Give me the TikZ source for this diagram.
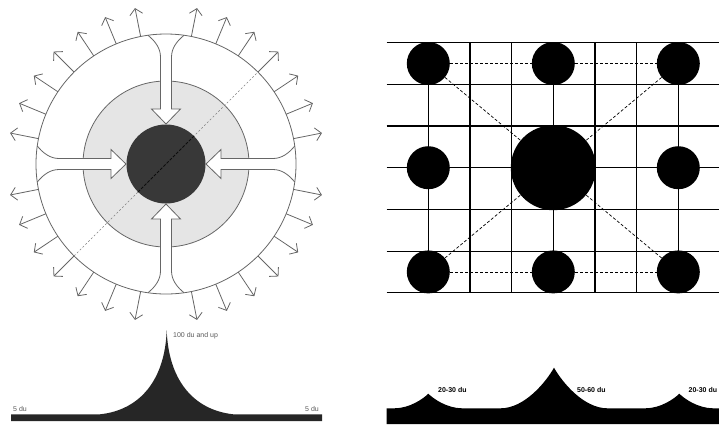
\documentclass[tikz,border=0pt]{standalone}
\usepackage{fontspec}
\setmainfont{Liberation Sans}
\usetikzlibrary{arrows.meta}

\begin{document}
\begin{tikzpicture}[
    x=1pt,y=-1pt,
    ring/.style={
        circle,
        draw=black!60,
        line width=0.8pt,
        inner sep=0pt
    },
    outarrow/.style={-{Straight Barb[length=6pt,width=13pt]}, line width=0.8pt, draw=black!60},
    channel/.style={draw=black!60, line width=0.8pt},
    diag/.style={draw=black!50, line width=0.5pt, dash pattern=on 2pt off 2pt},
    gridline/.style={draw=black, line width=1.1pt},
    dot/.style={circle, fill=black, inner sep=0pt, minimum size=43pt},
    link/.style={draw=black, line width=0.7pt, dash pattern=on 3pt off 2pt},
    tag/.style={font=\fontsize{7}{8}\selectfont, text=black!65, inner sep=0pt, anchor=west},
    boldtag/.style={font=\fontsize{7}{8}\selectfont\bfseries, inner sep=0pt, anchor=west}
]
    \useasboundingbox (0,0) rectangle (719,424);

    % concentric town
    \coordinate (C) at (166,164);
    \coordinate (ne end) at (257.9,72.1);
    \coordinate (sw end) at (74.1,255.9);

    \node[ring, fill=black!10, minimum size=166pt] (middle) at (C) {};
    \draw[diag] (sw end) -- (ne end);

    \foreach \a in {0,90,180,270}{
        \begin{scope}[shift={(C)}, rotate=\a]
            \fill[white] (128.7,18) .. controls (123,11) and (116,5.5) .. (107,5.5)
                -- (55,5.5) -- (55,14.5) -- (40,0) -- (55,-14.5) -- (55,-5.5)
                -- (107,-5.5) .. controls (116,-5.5) and (123,-11) .. (128.7,-18) -- cycle;
            \draw[channel] (128.7,18) .. controls (123,11) and (116,5.5) .. (107,5.5)
                -- (55,5.5) -- (55,14.5) -- (40,0) -- (55,-14.5) -- (55,-5.5)
                -- (107,-5.5) .. controls (116,-5.5) and (123,-11) .. (128.7,-18);
        \end{scope}
    }

    \node[circle, fill=black!78, inner sep=0pt, minimum size=79pt] (core) at (C) {};
    \draw[draw=black!95, line width=0.8pt, dash pattern=on 3pt off 1.5pt]
        (core.south west) -- (core.north east);

    \node[ring, minimum size=260pt] (outer) at (C) {};

    \foreach \q in {0,90,180,270}
        \foreach \j in {1,...,7}
            \draw[outarrow] (C) ++(\q+\j*11.25:130) -- ++(\q+\j*11.25:29);

    % density profile, one centre
    \fill[black!85] (11,421) -- (11,414.3) -- (100,414.3)
        .. controls (140,410) and (165,380) .. (166.7,330)
        .. controls (168.4,380) and (193.4,410) .. (233.4,414.3)
        -- (322,414.3) -- (322,421) -- cycle;
    \node[tag] (peak tag) at (173,336) {100 du and up};
    \node[tag] (left tag) at (13,409) {5 du};
    \node[tag] (right tag) at (305,409) {5 du};

    % grid of centres
    \foreach \i in {0,...,6}{
        \draw[gridline] (386.7,42.7+\i*41.67) -- (719,42.7+\i*41.67);
        \draw[gridline] (428.3+\i*41.67,42.7) -- (428.3+\i*41.67,292.7);
    }

    \node[dot] (nw) at (428.3,63.5) {};
    \node[dot] (n) at (553.3,63.5) {};
    \node[dot] (ne) at (678.3,63.5) {};
    \node[dot] (w) at (428.3,167.7) {};
    \node[dot] (e) at (678.3,167.7) {};
    \node[dot] (sw) at (428.3,271.9) {};
    \node[dot] (s) at (553.3,271.9) {};
    \node[dot] (se) at (678.3,271.9) {};
    \node[dot, minimum size=85pt] (hub) at (553.3,167.7) {};

    \draw[link] (nw) -- (n);
    \draw[link] (n) -- (ne);
    \draw[link] (sw) -- (s);
    \draw[link] (s) -- (se);
    \draw[link] (nw) -- (hub);
    \draw[link] (ne) -- (hub);
    \draw[link] (sw) -- (hub);
    \draw[link] (se) -- (hub);

    % density profile, several centres
    \fill[black] (386.7,424) -- (386.7,408.3) -- (394.3,408.3)
        .. controls (409.6,408.3) and (423.2,398.8) .. (428.3,393.7)
        .. controls (433.4,398.8) and (447,408.3) .. (462.3,408.3)
        -- (500.5,408.3)
        .. controls (524.6,408.3) and (546,381.9) .. (554,367.7)
        .. controls (562,381.9) and (583.4,408.3) .. (607.5,408.3)
        -- (645.3,408.3)
        .. controls (660.6,408.3) and (674.2,398.8) .. (679.3,393.7)
        .. controls (684.4,398.8) and (698,408.3) .. (713.3,408.3)
        -- (719,408.3) -- (719,424) -- cycle;
    \node[boldtag] (low tag a) at (438,390) {20-30 du};
    \node[boldtag] (high tag) at (577,390) {50-60 du};
    \node[boldtag] (low tag b) at (688.5,390) {20-30 du};

\end{tikzpicture}
\end{document}
